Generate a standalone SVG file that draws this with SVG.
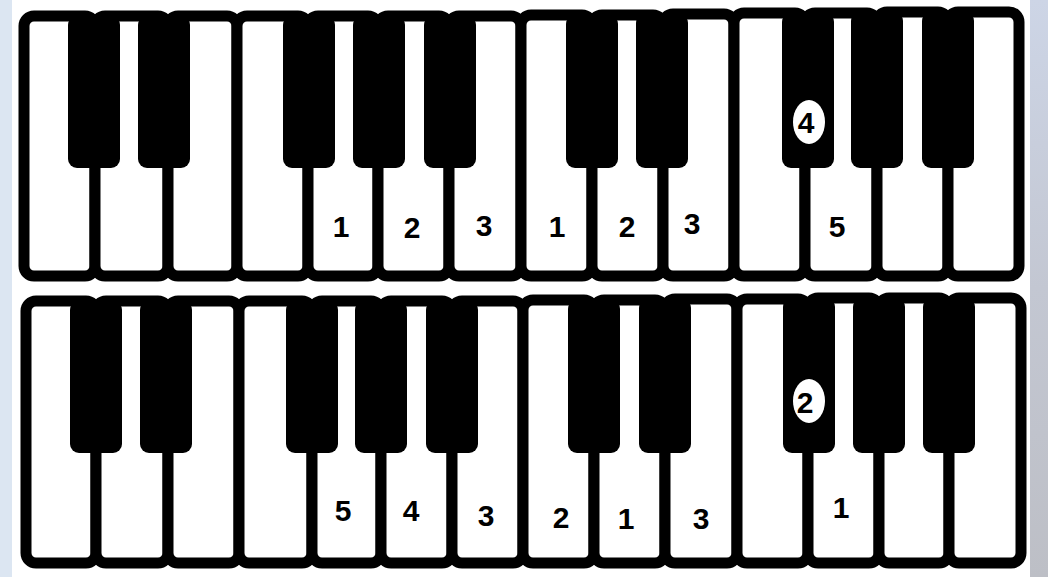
<svg xmlns="http://www.w3.org/2000/svg" width="1048" height="577" viewBox="0 0 1048 577">
<style>
.wk{fill:#fff;stroke:#000;stroke-width:11;stroke-linejoin:round}
.bk{fill:#000}
.lbl{font-family:"Liberation Sans",Arial,sans-serif;font-weight:bold;font-size:30px;fill:#000;text-anchor:middle}
.ring{fill:#fff}
</style>
<defs>
<linearGradient id="rg" x1="0" y1="0" x2="0" y2="1">
<stop offset="0" stop-color="#cdd5e6"/>
<stop offset="0.5" stop-color="#c3c7d2"/>
<stop offset="1" stop-color="#bdbfc6"/>
</linearGradient>
</defs>
<rect x="0" y="0" width="1048" height="577" fill="#fff"/>
<rect x="0" y="0" width="12" height="577" fill="#dce6f2"/>
<rect x="1030" y="0" width="18" height="577" fill="url(#rg)"/>

<g id="keyboard-top">
<g id="top-white">
<rect class="wk" x="24" y="16" width="71" height="260" rx="10"/>
<rect class="wk" x="95" y="16" width="73" height="260" rx="10"/>
<rect class="wk" x="168" y="16" width="69" height="260" rx="10"/>
<rect class="wk" x="237" y="16" width="71" height="260" rx="10"/>
<rect class="wk" x="308" y="16" width="70" height="260" rx="10"/>
<rect class="wk" x="378" y="16" width="71" height="260" rx="10"/>
<rect class="wk" x="449" y="16" width="72" height="260" rx="10"/>
<rect class="wk" x="521" y="15" width="71" height="261" rx="10"/>
<rect class="wk" x="592" y="15" width="71" height="261" rx="10"/>
<rect class="wk" x="663" y="14" width="71" height="262" rx="10"/>
<rect class="wk" x="734" y="13" width="71" height="263" rx="10"/>
<rect class="wk" x="805" y="13" width="72" height="263" rx="10"/>
<rect class="wk" x="877" y="12" width="71" height="264" rx="10"/>
<rect class="wk" x="948" y="12" width="71" height="264" rx="10"/>
</g>
<g id="top-black">
<rect class="bk" x="68" y="16" width="52" height="152" rx="9"/>
<rect class="bk" x="138" y="16" width="52" height="152" rx="9"/>
<rect class="bk" x="283" y="16" width="52" height="152" rx="9"/>
<rect class="bk" x="353" y="16" width="52" height="152" rx="9"/>
<rect class="bk" x="424" y="16" width="52" height="152" rx="9"/>
<rect class="bk" x="566" y="15" width="52" height="153" rx="9"/>
<rect class="bk" x="636" y="14" width="52" height="154" rx="9"/>
<rect class="bk" x="782" y="13" width="52" height="155" rx="9"/>
<rect class="bk" x="851" y="12" width="52" height="156" rx="9"/>
<rect class="bk" x="922" y="12" width="52" height="156" rx="9"/>
</g>
<g id="top-labels">
<text class="lbl" x="341" y="237">1</text>
<text class="lbl" x="412" y="238">2</text>
<text class="lbl" x="484" y="236">3</text>
<text class="lbl" x="557" y="237">1</text>
<text class="lbl" x="627" y="237">2</text>
<text class="lbl" x="692" y="234">3</text>
<text class="lbl" x="837" y="237">5</text>
</g>
<g id="top-finger-4">
<ellipse class="ring" cx="809" cy="122" rx="16" ry="22"/>
<text class="lbl" x="806" y="133">4</text>
</g>
</g>

<g id="keyboard-bottom">
<g id="bottom-white">
<rect class="wk" x="26" y="301" width="70" height="262" rx="10"/>
<rect class="wk" x="96" y="301" width="72" height="262" rx="10"/>
<rect class="wk" x="168" y="301" width="71" height="262" rx="10"/>
<rect class="wk" x="239" y="301" width="73" height="262" rx="10"/>
<rect class="wk" x="312" y="301" width="69" height="262" rx="10"/>
<rect class="wk" x="381" y="301" width="71" height="262" rx="10"/>
<rect class="wk" x="452" y="301" width="71" height="262" rx="10"/>
<rect class="wk" x="523" y="300" width="71" height="263" rx="10"/>
<rect class="wk" x="594" y="300" width="71" height="263" rx="10"/>
<rect class="wk" x="665" y="299" width="72" height="264" rx="10"/>
<rect class="wk" x="737" y="299" width="71" height="264" rx="10"/>
<rect class="wk" x="808" y="298" width="71" height="265" rx="10"/>
<rect class="wk" x="879" y="298" width="70" height="265" rx="10"/>
<rect class="wk" x="949" y="298" width="72" height="265" rx="10"/>
</g>
<g id="bottom-black">
<rect class="bk" x="70" y="301" width="52" height="152" rx="9"/>
<rect class="bk" x="140" y="301" width="52" height="152" rx="9"/>
<rect class="bk" x="286" y="301" width="52" height="152" rx="9"/>
<rect class="bk" x="355" y="301" width="52" height="152" rx="9"/>
<rect class="bk" x="426" y="301" width="52" height="152" rx="9"/>
<rect class="bk" x="568" y="300" width="52" height="153" rx="9"/>
<rect class="bk" x="639" y="299" width="52" height="154" rx="9"/>
<rect class="bk" x="783" y="298" width="52" height="155" rx="9"/>
<rect class="bk" x="853" y="298" width="52" height="155" rx="9"/>
<rect class="bk" x="923" y="298" width="52" height="155" rx="9"/>
</g>
<g id="bottom-labels">
<text class="lbl" x="343" y="521">5</text>
<text class="lbl" x="411" y="521">4</text>
<text class="lbl" x="486" y="526">3</text>
<text class="lbl" x="561" y="528">2</text>
<text class="lbl" x="626" y="529">1</text>
<text class="lbl" x="701" y="529">3</text>
<text class="lbl" x="841" y="518">1</text>
</g>
<g id="bottom-finger-2">
<ellipse class="ring" cx="809" cy="401" rx="16" ry="22"/>
<text class="lbl" x="805" y="413">2</text>
</g>
</g>

<g id="connectors"/>
</svg>
